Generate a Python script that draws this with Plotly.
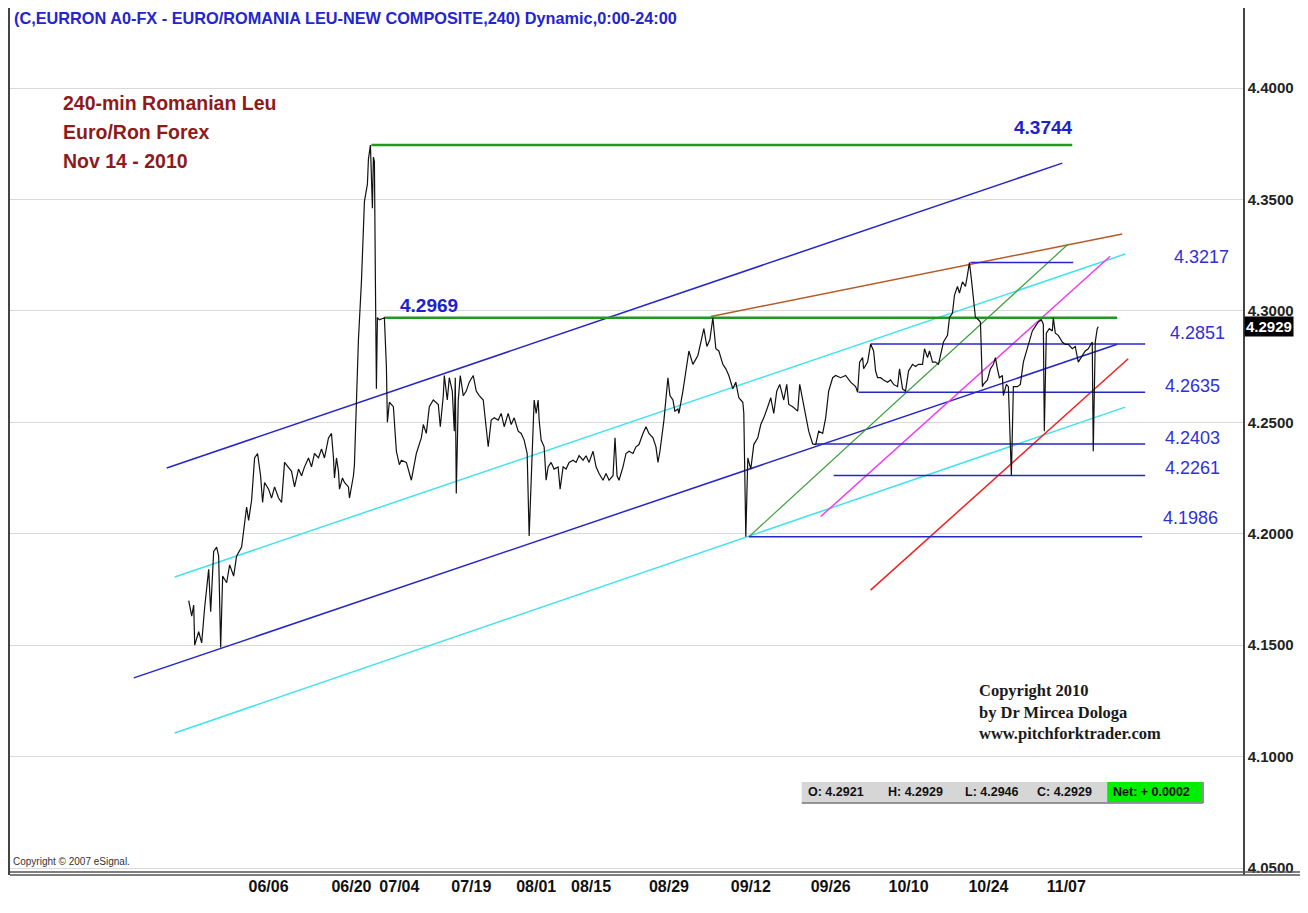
import plotly.graph_objects as go

# ---------------- data ----------------
bar_pos = [187,190,192,193,197,200,203,207,209,212,215,217,219,221,225,228,232,235,240,243,245,247,250,253,256,259,261,263,267,270,273,277,280,283,287,290,293,297,300,303,307,310,313,317,320,323,327,330,332,333,335,337,338,341,343,347,348,352,353,355,357,360,363,366,367,369,370,371,372,373,374,375,376,378,383,385,386,388,392,395,398,
           400,405,410,415,420,422,425,428,432,437,439,442,443,446,448,451,453,454,455,457,459,462,465,468,472,475,478,482,485,487,490,493,497,500,503,507,510,513,517,520,523,526,528,531,533,535,537,538,540,543,545,547,550,553,557,559,562,565,568,572,575,578,582,585,588,592,595,598,602,605,608,612,614,616,618,622,625,628,632,635,638,642,645,648,652,655,657,659,663,667,669,672,674,677,678,682,685,688,692,697,700,703,706,709,712,715,718,722,725,728,732,735,738,742,743,745,
           747,750,753,757,760,763,767,770,773,776,779,783,786,788,792,797,799,802,805,808,812,815,818,822,825,828,832,835,840,845,850,855,857,859,862,863,867,870,873,875,877,880,883,887,890,893,897,899,902,905,908,912,915,918,922,924,927,929,932,935,938,941,943,947,949,952,954,957,959,962,965,967,969,971,973,975,978,980,982,983,987,990,993,995,997,999,1002,1003,1006,1008,1011,1013,1017,1020,1023,1025,1028,1032,1035,1038,1041,1043,1044,1046,1049,1052,1053,1055,1058,1062,1065,1068,1072,1075,1078,1082,1085,1088,1092,1093,1095,1097,1098]
close = [4.170,4.163,4.168,4.150,4.156,4.151,4.167,4.184,4.165,4.192,4.194,4.190,4.149,4.181,4.178,4.186,4.181,4.190,4.194,4.204,4.212,4.206,4.215,4.234,4.236,4.226,4.214,4.223,4.220,4.216,4.221,4.216,4.214,4.232,4.230,4.228,4.221,4.229,4.226,4.230,4.234,4.230,4.236,4.234,4.238,4.234,4.243,4.245,4.234,4.225,4.234,4.228,4.220,4.225,4.223,4.221,4.216,4.226,4.231,4.259,4.287,4.313,4.349,4.357,4.368,4.3744,4.361,4.346,4.369,4.367,4.313,4.265,4.297,4.296,4.2969,4.275,4.250,4.259,4.257,4.237,4.231,
         4.233,4.232,4.224,4.236,4.243,4.249,4.245,4.257,4.260,4.258,4.248,4.262,4.271,4.260,4.270,4.264,4.246,4.270,4.218,4.260,4.271,4.262,4.264,4.268,4.271,4.264,4.262,4.260,4.248,4.239,4.251,4.252,4.251,4.254,4.248,4.254,4.249,4.252,4.246,4.245,4.242,4.236,4.199,4.236,4.260,4.254,4.260,4.251,4.242,4.239,4.224,4.230,4.232,4.229,4.230,4.220,4.230,4.229,4.232,4.233,4.232,4.235,4.233,4.235,4.232,4.237,4.230,4.227,4.224,4.227,4.224,4.226,4.243,4.226,4.224,4.230,4.236,4.237,4.236,4.239,4.240,4.245,4.248,4.245,4.243,4.239,4.232,4.237,4.251,4.270,4.262,4.260,4.255,4.256,4.254,4.264,4.274,4.282,4.276,4.280,4.286,4.292,4.284,4.287,4.2969,4.283,4.282,4.276,4.274,4.271,4.265,4.268,4.261,4.259,4.254,4.1986,
         4.234,4.229,4.240,4.243,4.249,4.252,4.257,4.261,4.254,4.264,4.267,4.260,4.267,4.258,4.257,4.255,4.267,4.260,4.252,4.246,4.2403,4.240,4.246,4.245,4.252,4.264,4.270,4.271,4.270,4.271,4.268,4.266,4.2635,4.277,4.279,4.274,4.277,4.2851,4.282,4.273,4.270,4.270,4.269,4.268,4.269,4.267,4.266,4.274,4.265,4.264,4.273,4.276,4.275,4.276,4.276,4.283,4.279,4.282,4.277,4.277,4.276,4.282,4.286,4.289,4.297,4.299,4.307,4.311,4.308,4.313,4.311,4.316,4.3217,4.314,4.304,4.297,4.296,4.295,4.266,4.267,4.269,4.274,4.276,4.279,4.274,4.270,4.271,4.262,4.267,4.266,4.2261,4.266,4.266,4.267,4.277,4.280,4.285,4.291,4.293,4.295,4.296,4.294,4.246,4.290,4.292,4.291,4.297,4.290,4.289,4.286,4.285,4.285,4.283,4.284,4.277,4.280,4.282,4.283,4.286,4.237,4.286,4.292,4.2929]

tick_pos = [267, 350, 398, 470, 535, 590, 668, 750, 830, 908, 988, 1066]
tick_text = ["06/06", "06/20", "07/04", "07/19", "08/01", "08/15", "08/29", "09/12", "09/26", "10/10", "10/24", "11/07"]

y_ticks = [4.05, 4.10, 4.15, 4.20, 4.25, 4.30, 4.35, 4.40]

# trend lines: (x pair, y pair, colour, width)
trend_lines = {
    "upper_blue":   ([165, 1062], [4.2295, 4.3663], "#2626C8", 1.5),
    "median_blue":  ([132, 1117], [4.1353, 4.2850], "#2626C8", 1.5),
    "upper_cyan":   ([173, 1125], [4.1806, 4.3255], "#3FE3EE", 1.5),
    "lower_cyan":   ([173, 1125], [4.1106, 4.2568], "#3FE3EE", 1.5),
    "brown":        ([710, 1122], [4.2975, 4.3345], "#B85A28", 1.5),
    "green_diag":   ([748, 1068], [4.1986, 4.3300], "#3C9E3C", 1.2),
    "magenta":      ([820, 1110], [4.2077, 4.3245], "#F23CF2", 1.5),
    "red":          ([870, 1128], [4.1747, 4.2785], "#F02222", 1.5),
}

green_levels = [4.3744, 4.2969]
green_starts = [370, 383]
green_ends = [1072, 1117]

blue_levels = [4.3217, 4.2851, 4.2635, 4.2403, 4.2261, 4.1986]
blue_starts = [970, 870, 858, 815, 833, 748]
blue_ends = [1073, 1145, 1145, 1145, 1145, 1142]
blue_label_x = [1172, 1168, 1163, 1163, 1163, 1161]
blue_label_y = [4.3242, 4.2901, 4.2663, 4.2430, 4.2295, 4.2071]

last_close = 4.2929

# ---------------- figure ----------------
# the page body adds an 8px offset, so the figure is 8px smaller than the window
OFF = 8
W, H = 1308 - OFF, 913 - OFF
PX0, PX1 = 8, 1243     # plot area in window pixels (x)
PY0, PY1 = 8, 875      # plot area in window pixels (y)
ML, MR = PX0 - OFF, W - (PX1 - OFF)
MT, MB = PY0 - OFF, H - (PY1 - OFF)
PW, PH = PX1 - PX0, PY1 - PY0

def px(x):  # window pixel x -> paper
    return (x - PX0) / PW

def py(y):  # window pixel y -> paper
    return (PY1 - y) / PH

fig = go.Figure()

for name, (xs, ys, col, w) in trend_lines.items():
    fig.add_trace(go.Scatter(x=xs, y=ys, mode="lines", line=dict(color=col, width=w),
                             hoverinfo="skip", showlegend=False))

for lv, x0, x1 in zip(green_levels, green_starts, green_ends):
    fig.add_trace(go.Scatter(x=[x0, x1], y=[lv, lv], mode="lines",
                             line=dict(color="#1E9A1E", width=2.5), hoverinfo="skip", showlegend=False))

for lv, x0, x1 in zip(blue_levels, blue_starts, blue_ends):
    fig.add_trace(go.Scatter(x=[x0, x1], y=[lv, lv], mode="lines",
                             line=dict(color="#2626C8", width=1.5), hoverinfo="skip", showlegend=False))

fig.add_trace(go.Scatter(x=bar_pos, y=close, mode="lines", line=dict(color="#111111", width=1.2),
                         showlegend=False))

annotations = []
for lv, lx, ly in zip(blue_levels, blue_label_x, blue_label_y):
    annotations.append(dict(x=lx, y=ly, xref="x", yref="y", text=f"{lv:.4f}", showarrow=False,
                            xanchor="left", yanchor="middle",
                            font=dict(family="Liberation Sans, Arial", size=18, color="#3030D8")))

annotations.append(dict(x=1043, y=4.3825, xref="x", yref="y", text=f"{green_levels[0]:.4f}", showarrow=False,
                        xanchor="center", yanchor="middle",
                        font=dict(family="Liberation Sans, Arial", size=19, color="#2020CC", weight=700)))
annotations.append(dict(x=428, y=4.3022, xref="x", yref="y", text=f"{green_levels[1]:.4f}", showarrow=False,
                        xanchor="center", yanchor="middle",
                        font=dict(family="Liberation Sans, Arial", size=19, color="#2020CC", weight=700)))

# title
annotations.append(dict(x=px(11), y=1.0, xref="paper", yref="paper",
                        text="(C,EURRON A0-FX - EURO/ROMANIA LEU-NEW COMPOSITE,240) Dynamic,0:00-24:00",
                        showarrow=False, xanchor="left", yanchor="top", borderpad=0,
                        font=dict(family="Liberation Sans, Arial", size=16.3, color="#2424D0", weight=700)))

# red caption
for i, t in enumerate(["240-min Romanian Leu", "Euro/Ron Forex", "Nov 14 - 2010"]):
    annotations.append(dict(x=px(59), y=py(103 + 29 * i), xref="paper", yref="paper", text=t,
                            showarrow=False, xanchor="left", yanchor="middle",
                            font=dict(family="Liberation Sans, Arial", size=19.5, color="#8E1A1A", weight=700)))

# copyright block
for i, t in enumerate(["Copyright 2010", "by Dr Mircea Dologa", "www.pitchforktrader.com"]):
    annotations.append(dict(x=px(977), y=py(691 + 21 * i), xref="paper", yref="paper", text=t,
                            showarrow=False, xanchor="left", yanchor="middle",
                            font=dict(family="Liberation Serif, Times New Roman", size=16.5, color="#1a1a1a", weight=700)))

annotations.append(dict(x=px(9), y=py(861), xref="paper", yref="paper", text="Copyright © 2007 eSignal.",
                        showarrow=False, xanchor="left", yanchor="middle",
                        font=dict(family="Liberation Sans, Arial", size=10, color="#333333")))

# OHLC box texts
ohlc = [("O: 4.2921", 805), ("H: 4.2929", 885), ("L: 4.2946", 963), ("C: 4.2929", 1035), ("Net: + 0.0002", 1111)]
for t, x in ohlc:
    annotations.append(dict(x=px(x), y=py(792), xref="paper", yref="paper", text=t,
                            showarrow=False, xanchor="left", yanchor="middle",
                            font=dict(family="Liberation Sans, Arial", size=12.5, color="#111111", weight=700)))

# last price marker
annotations.append(dict(x=1.0, y=last_close, xref="paper", yref="y", text=f"{last_close:.4f}",
                        showarrow=False, xanchor="left", yanchor="middle", xshift=1,
                        bgcolor="#000000", borderpad=1,
                        font=dict(family="Liberation Sans, Arial", size=15, color="#FFFFFF", weight=700)))

shapes = [
    dict(type="rect", xref="paper", yref="paper", x0=px(801), x1=px(1203), y0=py(803), y1=py(782),
         fillcolor="#D6D6D6", line=dict(width=0), layer="above"),
    dict(type="line", xref="paper", yref="paper", x0=px(801), x1=px(1203), y0=py(803), y1=py(803),
         line=dict(color="#777777", width=1.5)),
    dict(type="line", xref="paper", yref="paper", x0=px(1203), x1=px(1203), y0=py(803), y1=py(782),
         line=dict(color="#777777", width=1.5)),
    dict(type="rect", xref="paper", yref="paper", x0=px(1107), x1=px(1202), y0=py(802), y1=py(782),
         fillcolor="#00EE00", line=dict(width=0), layer="above"),
    # bottom double line across full width
    dict(type="line", xref="paper", yref="paper", x0=px(OFF), x1=px(1308), y0=py(872), y1=py(872),
         line=dict(color="#555555", width=1.5)),
    dict(type="line", xref="paper", yref="paper", x0=px(OFF), x1=px(1308), y0=py(875), y1=py(875),
         line=dict(color="#555555", width=1.5)),
]

y_top = 4.40 + (88 - PY0) / 2228.6
y_bot = 4.05 - (PY1 - 868) / 2228.6

fig.update_layout(
    width=W, height=H,
    margin=dict(l=ML, r=MR, t=MT, b=MB, pad=0),
    paper_bgcolor="white", plot_bgcolor="white",
    showlegend=False,
    annotations=annotations,
    shapes=shapes,
    xaxis=dict(range=[PX0, PX1], tickmode="array", tickvals=tick_pos, ticktext=tick_text,
               showgrid=False, zeroline=False, showline=False, ticks="",
               tickfont=dict(family="Liberation Sans Narrow, Arial Narrow, Liberation Sans", size=16,
                             color="#111111", weight=700)),
    yaxis=dict(range=[y_bot, y_top], side="right", tickmode="array", tickvals=y_ticks,
               ticktext=[f"{v:.4f}" for v in y_ticks],
               showgrid=True, gridcolor="#D9D9D9", gridwidth=1, zeroline=False,
               showline=True, linecolor="#444444", linewidth=1.5, mirror=True, ticks="",
               tickfont=dict(family="Liberation Sans, Arial", size=15, color="#222222", weight=700)),
)

fig.write_html("out.html")
